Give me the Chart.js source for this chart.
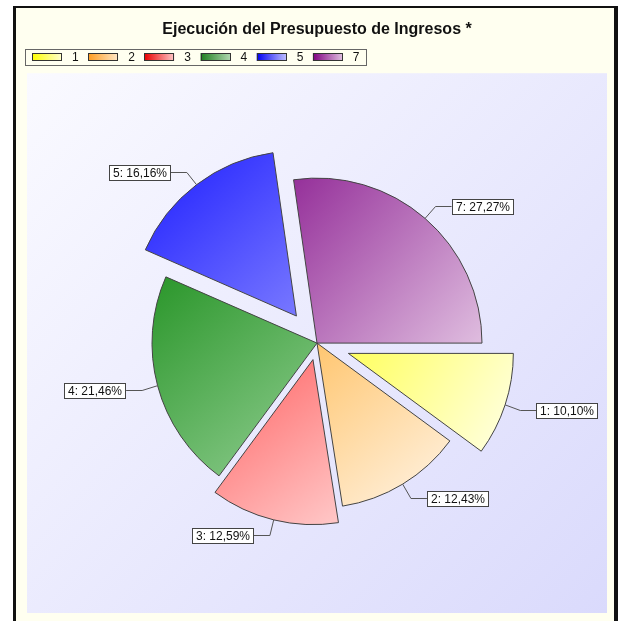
<!DOCTYPE html>
<html>
<head>
<meta charset="utf-8">
<title>Ejecución del Presupuesto de Ingresos</title>
<script src="https://cdn.jsdelivr.net/npm/chart.js@4.4.1/dist/chart.umd.min.js"></script>
<style>
  html, body { margin: 0; padding: 0; background: #fff; overflow: hidden; }
  canvas { display: block; }
</style>
</head>
<body>
<canvas id="pieChart" width="620" height="621"></canvas>
<script>
// Partidas y porcentaje ejecutado de cada una
var categorias = ['1', '2', '3', '4', '5', '7'];
var porcentajes = [10.10, 12.43, 12.59, 21.46, 16.16, 27.27];

// Colores (degradado de cada porción y de la leyenda)
var colorInicio = ['#FFFF60', '#FFC670', '#FF6262', '#2A962A', '#1E1EFF', '#95309A'];
var colorFin = ['#FFFFE6', '#FFF4E6', '#FFC8C8', '#92CE92', '#7878FF', '#DFBDDF'];
var leyendaInicio = ['#FFFF00', '#FF9C20', '#E80000', '#1E7E1E', '#0000F0', '#800080'];
var leyendaFin = ['#FFFFD0', '#FFE8C8', '#FFC8C8', '#B0D8B0', '#C0C0FF', '#E0C0E0'];
var separacion = [33, 0, 17, 0, 34, 0];

var RADIO = 165;
var fuente = '"Liberation Sans", Arial, sans-serif';

function formato(v) {
    return v.toFixed(2).replace('.', ',');
}

// Ángulos y centro (ya separado) de la porción i
function porcion(chart, i) {
    var area = chart.chartArea;
    var total = porcentajes.reduce(function (a, b) { return a + b; }, 0);
    var a0 = 0;
    for (var j = 0; j < i; j++) a0 += porcentajes[j] / total * 2 * Math.PI;
    var a1 = a0 + porcentajes[i] / total * 2 * Math.PI;
    var mid = (a0 + a1) / 2;
    return {
        x: (area.left + area.right) / 2 + Math.cos(mid) * separacion[i],
        y: (area.top + area.bottom) / 2 + Math.sin(mid) * separacion[i],
        a0: a0,
        a1: a1
    };
}

// Degradado diagonal sobre el rectángulo que ocupa cada porción
function relleno(c) {
    var i = c.dataIndex;
    var chart = c.chart;
    if (i === undefined || !chart.chartArea) return colorInicio[i] || '#ccc';
    var p = porcion(chart, i);
    var xs = [p.x], ys = [p.y];
    var angulos = [p.a0, p.a1];
    for (var k = 0; k <= 4; k++) {
        var a = k * Math.PI / 2;
        if (a > p.a0 && a < p.a1) angulos.push(a);
    }
    angulos.forEach(function (a) {
        xs.push(p.x + RADIO * Math.cos(a));
        ys.push(p.y + RADIO * Math.sin(a));
    });
    var g = chart.ctx.createLinearGradient(
        Math.min.apply(null, xs), Math.min.apply(null, ys),
        Math.max.apply(null, xs), Math.max.apply(null, ys));
    g.addColorStop(0, colorInicio[i]);
    g.addColorStop(1, colorFin[i]);
    return g;
}

// Fondo, marco y área del gráfico
var marco = {
    id: 'marco',
    beforeDraw: function (chart) {
        var ctx = chart.ctx, a = chart.chartArea;
        ctx.save();
        ctx.fillStyle = '#fff';
        ctx.fillRect(0, 0, chart.width, chart.height);
        ctx.fillStyle = '#111';
        ctx.fillRect(13, 6, 605, chart.height);
        ctx.fillStyle = '#FFFFF0';
        ctx.fillRect(16, 8, 598, chart.height);
        var g = ctx.createLinearGradient(a.left, a.top, a.right, a.bottom);
        g.addColorStop(0, '#FAFAFF');
        g.addColorStop(1, '#DADAFC');
        ctx.fillStyle = g;
        ctx.fillRect(a.left, a.top, a.right - a.left, a.bottom - a.top);
        ctx.restore();
    }
};

// Separa las porciones destacadas del centro
var separar = {
    id: 'separar',
    afterDatasetsUpdate: function (chart) {
        chart.getDatasetMeta(0).data.forEach(function (arc, i) {
            var mid = (arc.startAngle + arc.endAngle) / 2;
            arc.x += Math.cos(mid) * separacion[i];
            arc.y += Math.sin(mid) * separacion[i];
        });
    }
};

// Leyenda horizontal con cajas en degradado
var leyenda = {
    id: 'leyenda',
    afterDraw: function (chart) {
        var ctx = chart.ctx;
        var left = 25, top = 49, h = 16;
        var x = left + 7;
        ctx.save();
        ctx.font = '12px ' + fuente;
        ctx.textBaseline = 'middle';
        ctx.lineWidth = 1;
        var fin = x;
        categorias.forEach(function (cat, i) {
            var g = ctx.createLinearGradient(x, 0, x + 30, 0);
            g.addColorStop(0, leyendaInicio[i]);
            g.addColorStop(1, leyendaFin[i]);
            ctx.fillStyle = g;
            ctx.fillRect(x, top + 4, 30, 8);
            ctx.strokeStyle = '#333';
            ctx.strokeRect(Math.round(x) + 0.5, top + 4.5, 29, 7);
            ctx.fillStyle = '#111';
            ctx.fillText(cat, x + 40, top + h / 2 + 0.5);
            fin = x + 40 + ctx.measureText(cat).width;
            x = fin + 9.5;
        });
        ctx.strokeStyle = '#666';
        ctx.strokeRect(left + 0.5, top + 0.5, Math.round(fin + 6 - left), h);
        ctx.restore();
    }
};

// Etiquetas de valor con línea guía
var etiquetas = {
    id: 'etiquetas',
    afterDatasetsDraw: function (chart) {
        var ctx = chart.ctx;
        ctx.save();
        ctx.font = '12px ' + fuente;
        ctx.textBaseline = 'middle';
        ctx.lineWidth = 1;
        chart.getDatasetMeta(0).data.forEach(function (arc, i) {
            var mid = (arc.startAngle + arc.endAngle) / 2;
            var cos = Math.cos(mid), sin = Math.sin(mid);
            var px = arc.x + cos * arc.outerRadius, py = arc.y + sin * arc.outerRadius;
            var ex = px + cos * 16, ey = Math.round(py + sin * 16) + 0.5;
            var dir = cos >= 0 ? 1 : -1;
            var hx = ex + dir * 16;
            var texto = categorias[i] + ': ' + formato(porcentajes[i]) + '%';
            var w = Math.round(ctx.measureText(texto).width) + 8, h = 16;
            var bx = Math.round(dir > 0 ? hx : hx - w);
            var by = Math.round(ey - h / 2);

            ctx.strokeStyle = '#555';
            ctx.beginPath();
            ctx.moveTo(px, py);
            ctx.lineTo(ex, ey);
            ctx.lineTo(hx, ey);
            ctx.stroke();

            ctx.fillStyle = '#fff';
            ctx.fillRect(bx, by, w, h);
            ctx.strokeStyle = '#444';
            ctx.strokeRect(bx + 0.5, by + 0.5, w - 1, h - 1);
            ctx.fillStyle = '#111';
            ctx.fillText(texto, bx + 4, by + h / 2 + 0.5);
        });
        ctx.restore();
    }
};

var ctx = document.getElementById('pieChart').getContext('2d');
var grafico = new Chart(ctx, {
    type: 'pie',
    data: {
        labels: categorias,
        datasets: [{
            data: porcentajes,
            backgroundColor: relleno,
            borderColor: '#444',
            borderWidth: 1
        }]
    },
    options: {
        responsive: false,
        animation: false,
        events: [],
        rotation: 90,
        radius: RADIO,
        layout: {
            padding: { top: 0, left: 27, right: 13, bottom: 8 }
        },
        plugins: {
            legend: { display: false },
            tooltip: { enabled: false },
            title: {
                display: true,
                text: 'Ejecución del Presupuesto de Ingresos *',
                color: '#111',
                font: { family: fuente, size: 16, weight: 'bold' },
                padding: { top: 20, bottom: 34 }
            }
        }
    },
    plugins: [marco, separar, etiquetas, leyenda]
});
</script>
</body>
</html>
